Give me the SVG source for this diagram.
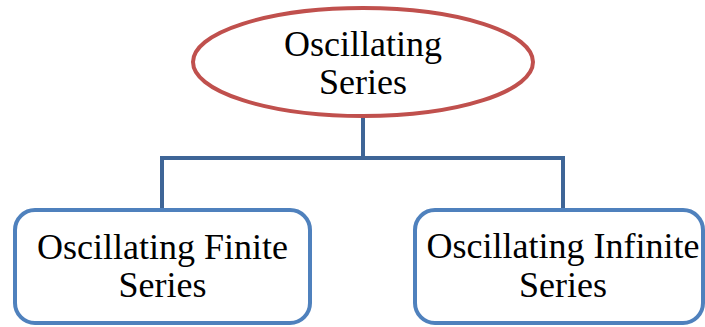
<svg xmlns="http://www.w3.org/2000/svg" width="705" height="327" viewBox="0 0 705 327">
<style>
  .lbl { font-family: "Liberation Serif", "Times New Roman", serif; font-size: 36px; fill: #000; text-anchor: middle; }
  .box { fill: #fff; stroke: #4F81BD; stroke-width: 4; }
  .conn { fill: none; stroke: #3E6597; stroke-width: 4; }
</style>
<rect width="705" height="327" fill="#fff"/>
<g id="connectors">
  <path class="conn" d="M363 116 V158 M162 208 V158 H563 V208"/>
</g>
<g id="root">
  <ellipse cx="363" cy="62" rx="170" ry="54" fill="#fff" stroke="#C0504D" stroke-width="4"/>
  <text class="lbl" x="363" y="56">Oscillating</text>
  <text class="lbl" x="363" y="94">Series</text>
</g>
<g id="finite">
  <rect class="box" x="15" y="210" width="295" height="113" rx="20"/>
  <text class="lbl" x="162.5" y="259">Oscillating Finite</text>
  <text class="lbl" x="162.5" y="297">Series</text>
</g>
<g id="infinite">
  <rect class="box" x="415" y="210" width="288" height="113" rx="20"/>
  <text class="lbl" x="563" y="258">Oscillating Infinite</text>
  <text class="lbl" x="563" y="297">Series</text>
</g>
</svg>
